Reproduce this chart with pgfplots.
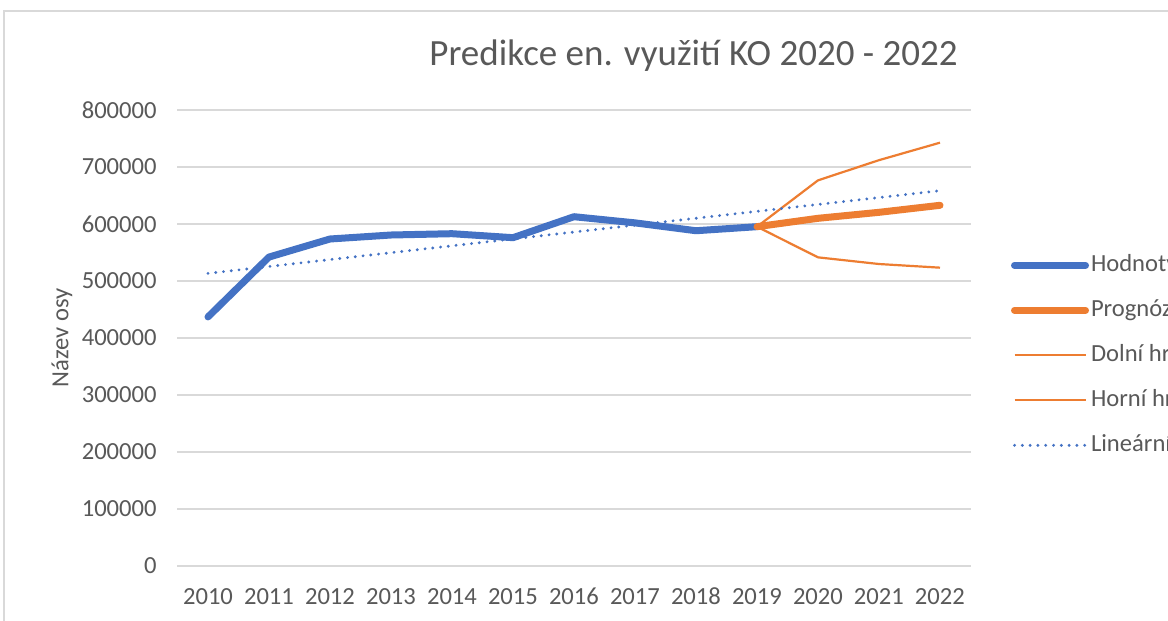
\documentclass[border=0pt]{standalone}
\usepackage{pgfplots}
\pgfplotsset{compat=1.18}
\usepackage{fontspec}
\setmainfont{Carlito}
\definecolor{xblue}{HTML}{4472C4}
\definecolor{xorange}{HTML}{ED7D31}
\definecolor{xgrid}{HTML}{D9D9D9}
\definecolor{xtext}{HTML}{595959}
\begin{document}
\begin{tikzpicture}
\path[use as bounding box] (0pt,0pt) rectangle (584pt,310.5pt);
\clip (0pt,0pt) rectangle (584pt,310.5pt);
\fill[white] (0pt,0pt) rectangle (584pt,310.5pt);
\draw[xgrid, line width=1pt] (2pt,-10pt) -- (2pt,305pt) -- (600pt,305pt);
\begin{axis}[
  at={(88.75pt,27.5pt)}, anchor=south west,
  scale only axis, width=396.5pt, height=228pt,
  xmin=2009.5, xmax=2022.5, ymin=0, ymax=800000,
  xtick={2010,...,2022}, ytick={0,100000,200000,300000,400000,500000,600000,700000,800000},
  scaled y ticks=false, scaled x ticks=false,
  /pgf/number format/fixed,
  /pgf/number format/precision=0,
  /pgf/number format/1000 sep={},
  /pgf/number format/assume math mode=true,
  axis line style={draw=none},
  ymajorgrids, grid style={xgrid, line width=1pt},
  major tick length=0pt,
  tick label style={font=\fontsize{12.3}{14}\selectfont, text=xtext},
  yticklabel style={inner sep=0pt, xshift=-10.25pt},
  xticklabel style={inner sep=0pt, anchor=north, text height=9pt, text depth=0pt, yshift=-10.15pt},
  ylabel={Název osy},
  every axis y label/.style={at={(rel axis cs:-0.1456,0.5)}, rotate=90, anchor=center, font=\fontsize{12.3}{14}\selectfont, text=xtext},
  clip=false,
  legend cell align=left,
  legend style={draw=none, fill=none, inner sep=0pt, outer sep=0pt,
    at={(rel axis cs:1.0511,0.462)}, anchor=west,
    font=\fontsize{12.3}{14}\selectfont, text=xtext,
    row sep=10.5pt,
    nodes={inner sep=0pt, text height=9pt, text depth=3pt},
    /tikz/every odd column/.append style={column sep=1pt}},
  legend image code/.code={\draw[#1] (0pt,0pt) -- (35.5pt,0pt);},
]
\addplot[xblue, line width=3.5pt, line join=round, line cap=round] coordinates {
  (2010,437000) (2011,542000) (2012,573700) (2013,580700) (2014,583000)
  (2015,576000) (2016,612800) (2017,602000) (2018,588200) (2019,595300)};
\addlegendentry{Hodnoty}
\addplot[xorange, line width=3.5pt, line join=round, line cap=round] coordinates {
  (2019,595300) (2020,610000) (2021,620500) (2022,632800)};
\addlegendentry{Prognóza(Hodnoty)}
\addplot[xorange, line width=1.1pt, line join=round] coordinates {
  (2019,595300) (2020,541500) (2021,529800) (2022,523400)};
\addlegendentry{Dolní hranice spolehlivosti(Hodnoty)}
\addplot[xorange, line width=1.1pt, line join=round] coordinates {
  (2019,595300) (2020,676600) (2021,712000) (2022,742700)};
\addlegendentry{Horní hranice spolehlivosti(Hodnoty)}
\addplot[xblue, line width=1.6pt, line cap=round, dash pattern=on 0pt off 3.9pt] coordinates {
  (2010,513400) (2022,658500)};
\addlegendentry{Lineární (Hodnoty)}
\node[font=\fontsize{18.5}{22}\selectfont, text=xtext, anchor=base, inner sep=0pt] at (rel axis cs:0.6507,1.0987) {Predikce en. využití KO 2020 - 2022};
\end{axis}
\end{tikzpicture}
\end{document}
